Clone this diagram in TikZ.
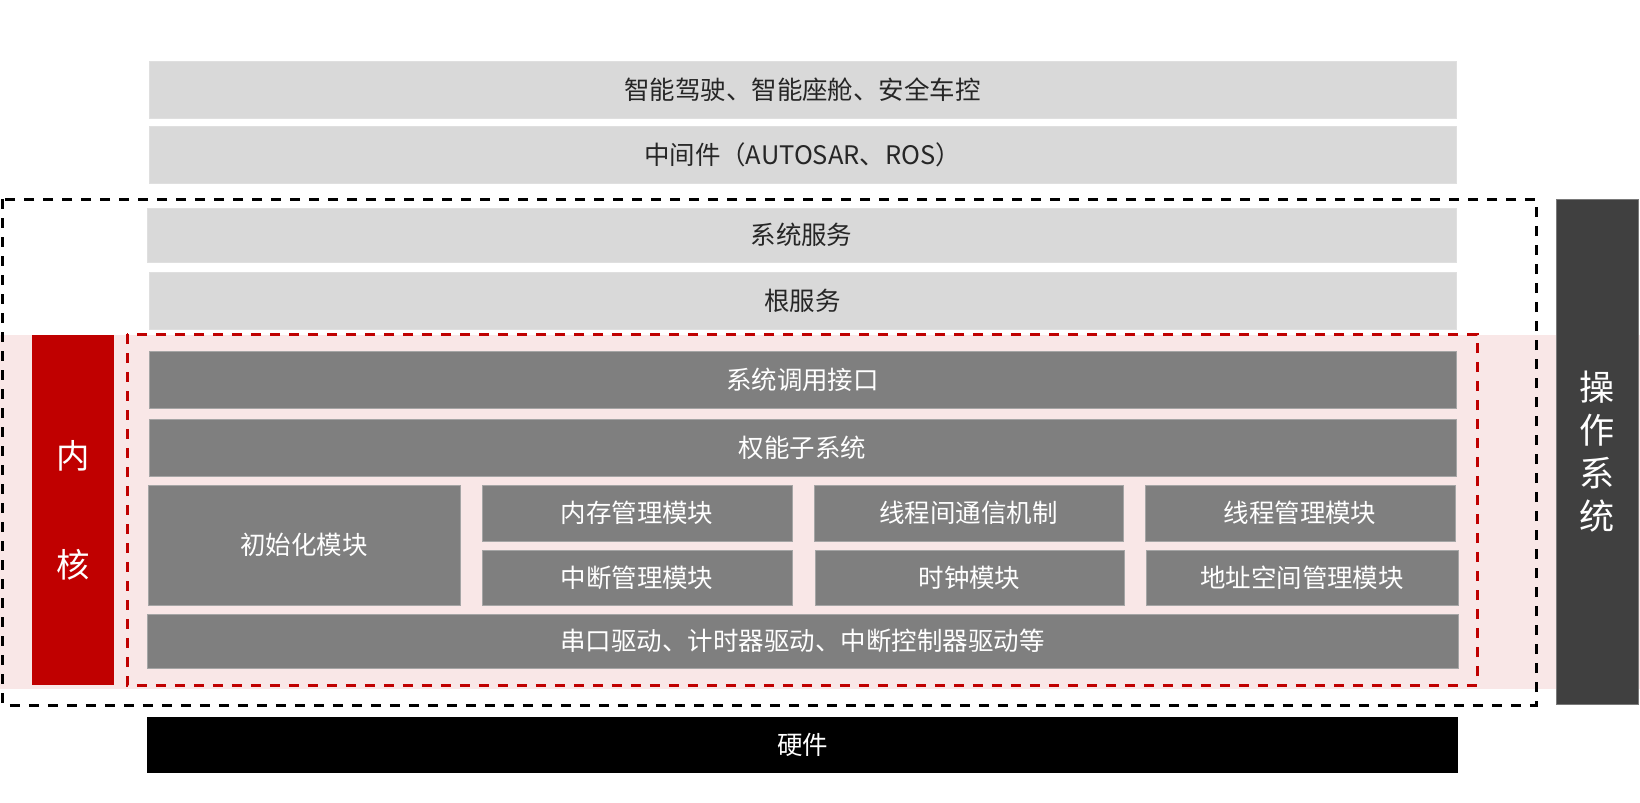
\documentclass[tikz,border=0pt]{standalone}
\usepackage{fontspec}
\setmainfont{Noto Sans CJK SC}
\definecolor{barlight}{RGB}{217,217,217}
\definecolor{barmid}{RGB}{127,127,127}
\definecolor{bardark}{RGB}{64,64,64}
\definecolor{kernelred}{RGB}{192,0,0}
\definecolor{kernelpink}{RGB}{249,231,231}
\definecolor{textdark}{RGB}{38,38,38}
\usepackage{tikz}
\usetikzlibrary{positioning}

\begin{document}
\begin{tikzpicture}[
    lightbar/.style={fill=barlight,draw=barlight!85!white,line width=0.4pt,inner sep=0pt,
      font=\fontsize{14.5pt}{17pt}\selectfont\color{textdark}},
    greybar/.style={fill=barmid,draw=barmid!70!white,line width=0.4pt,inner sep=0pt,
      font=\fontsize{14.5pt}{17pt}\selectfont\color{white}},
    sidebar/.style={inner sep=0pt,minimum width=1.64cm,align=center,text=white}]
  \useasboundingbox (0,0) rectangle (32.8,-16.04);
  \fill[kernelpink] (0,-6.70) rectangle (32.8,-13.78);

  \node[lightbar,minimum width=26.14cm,minimum height=1.14cm] (app) at (16.05,-1.79)
    {智能驾驶、智能座舱、安全车控};
  \node[lightbar,minimum width=26.14cm,minimum height=1.14cm] (middleware) at (16.05,-3.09)
    {中间件（AUTOSAR、ROS）};
  \node[lightbar,minimum width=26.18cm,minimum height=1.08cm] (sysservice) at (16.03,-4.70)
    {系统服务};
  \node[lightbar,minimum width=26.14cm,minimum height=1.14cm] (rootservice) at (16.05,-6.01)
    {根服务};

  \node[greybar,minimum width=26.14cm,minimum height=1.14cm] (syscall) at (16.05,-7.59)
    {系统调用接口};
  \node[greybar,minimum width=26.14cm,minimum height=1.14cm] (capability) at (16.05,-8.95)
    {权能子系统};
  \node[greybar,minimum width=6.24cm,minimum height=2.40cm] (init) at (6.08,-10.90)
    {初始化模块};
  \node[greybar,minimum width=6.20cm,minimum height=1.12cm] (memory) at (12.74,-10.26)
    {内存管理模块};
  \node[greybar,minimum width=6.18cm,minimum height=1.12cm] (ipc) at (19.37,-10.26)
    {线程间通信机制};
  \node[greybar,minimum width=6.20cm,minimum height=1.12cm] (thread) at (26.00,-10.26)
    {线程管理模块};
  \node[greybar,minimum width=6.20cm,minimum height=1.10cm] (interrupt) at (12.74,-11.55)
    {中断管理模块};
  \node[greybar,minimum width=6.18cm,minimum height=1.10cm] (clock) at (19.39,-11.55)
    {时钟模块};
  \node[greybar,minimum width=6.24cm,minimum height=1.10cm] (addrspace) at (26.04,-11.55)
    {地址空间管理模块};
  \node[greybar,minimum width=26.22cm,minimum height=1.08cm] (drivers) at (16.05,-12.82)
    {串口驱动、计时器驱动、中断控制器驱动等};

  \node[fill=black,inner sep=0pt,minimum width=26.22cm,minimum height=1.12cm,
        font=\fontsize{14.5pt}{17pt}\selectfont\color{white}] (hardware) at (16.05,-14.90) {硬件};

  \node[sidebar,fill=kernelred,minimum height=7.00cm,
        font=\fontsize{19pt}{62pt}\selectfont] (kernel) at (1.46,-10.20) {内\\核};
  \node[sidebar,fill=bardark,draw=bardark!70!white,line width=0.4pt,minimum height=10.10cm,
        font=\fontsize{20pt}{24.5pt}\selectfont] (os) at (31.94,-9.03) {操\\作\\系\\统};

  \draw[kernelred,line width=0.06cm,dash pattern=on 0.2cm off 0.18cm] (2.54,-6.68) rectangle (29.54,-13.70);
  \draw[black,line width=0.06cm,dash pattern=on 0.2cm off 0.18cm] (0.06,-3.98) rectangle (30.72,-14.10);
\end{tikzpicture}
\end{document}
